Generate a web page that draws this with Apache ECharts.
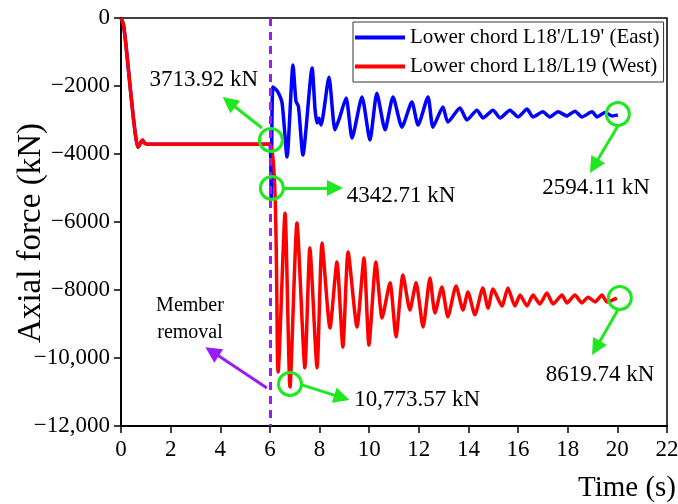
<!DOCTYPE html>
<html>
<head>
<meta charset="utf-8">
<script src="https://cdn.jsdelivr.net/npm/echarts@6/dist/echarts.min.js"></script>
<style>
  html, body { margin: 0; padding: 0; background: #fff; }
  #chart { width: 678px; height: 504px; }
</style>
</head>
<body>
<div id="chart"></div>
<script>
// loading phase, shared by both chords (s, kN)
const preTime = [0, 0.1, 0.2, 0.3, 0.4, 0.5, 0.6, 0.68, 0.77, 0.86, 0.97, 1.15, 6.0];
const preForce = [0, -200, -800, -1530, -2260, -2940, -3530, -3800, -3700, -3590, -3690, -3714, -3714];

// after member removal
const eastTime = [6.05, 6.12, 6.3, 6.49, 6.69, 6.93, 7.05, 7.15, 7.33, 7.7, 7.82, 7.9, 7.98, 8.06, 8.38, 8.62, 8.8, 9.07, 9.31, 9.71, 10.03, 10.31, 10.64, 10.96, 11.32, 11.72, 11.97, 12.37, 12.57, 12.97, 13.17, 13.66, 13.94, 14.34, 14.59, 14.99, 15.27, 15.67, 16.0, 16.36, 16.6, 17.0, 17.28, 17.61, 17.97, 18.29, 18.57, 18.98, 19.18, 19.5, 19.8, 20.02];
const eastForce = [-5300, -2030, -2150, -2500, -4090, -1380, -2450, -2600, -4030, -1470, -2700, -3090, -2950, -3150, -1740, -3290, -2950, -2350, -3530, -2320, -3590, -2210, -3290, -2320, -3210, -2470, -3150, -2320, -3210, -2620, -3060, -2650, -3000, -2710, -2940, -2710, -2940, -2710, -2910, -2680, -2910, -2760, -2910, -2760, -2880, -2740, -2910, -2760, -2910, -2780, -2880, -2850];

const westTime = [6.33, 6.61, 6.81, 7.09, 7.41, 7.61, 7.9, 8.1, 8.42, 8.7, 8.94, 9.15, 9.51, 9.79, 9.99, 10.27, 10.52, 10.84, 11.08, 11.36, 11.64, 11.89, 12.17, 12.45, 12.65, 12.93, 13.17, 13.5, 13.78, 13.98, 14.26, 14.58, 14.79, 14.99, 15.35, 15.59, 15.87, 16.08, 16.36, 16.6, 16.88, 17.16, 17.41, 17.77, 17.97, 18.29, 18.57, 18.82, 19.1, 19.38, 19.58, 19.98];
const westForce = [-10410, -5740, -10850, -6030, -10290, -6760, -10290, -6620, -9120, -7180, -9680, -6880, -9090, -7060, -9620, -7180, -8820, -7790, -9380, -7560, -8590, -7790, -9090, -7650, -8680, -7910, -8790, -7880, -8590, -8060, -8730, -7940, -8530, -7970, -8470, -7940, -8470, -8150, -8470, -8150, -8410, -8090, -8410, -8150, -8380, -8150, -8380, -8210, -8350, -8150, -8350, -8240];

const seriesNames = ["Lower chord L18'/L19' (East)", 'Lower chord L18/L19 (West)'];
const removalTime = 6;

// annotations: circle marks, arrows and value labels
const circleMarks = [[6.04, -3588], [6.08, -5000], [6.81, -10764], [20.02, -2823], [20.1, -8235]];
const greenArrows = [
  [[5.68, -3235], [4.35, -2470]],
  [[6.53, -5000], [8.62, -5000]],
  [[7.29, -10790], [8.9, -11165]],
  [[20.02, -3176], [19.06, -4353]],
  [[20.02, -8588], [19.14, -9705]]
];
const valueLabels = [
  { text: '3713.92 kN', at: [3.34, -1823] },
  { text: '4342.71 kN', at: [11.28, -5235] },
  { text: '10,773.57 kN', at: [11.93, -11235] },
  { text: '2594.11 kN', at: [19.14, -5000] },
  { text: '8619.74 kN', at: [19.3, -10500] }
];
const removalArrow = [[5.88, -10882], [3.67, -9812]];
const removalLabel = { text: 'Member\nremoval', at: [2.78, -8853] };

const FONT = 'Liberation Serif';
const GREEN = '#1ee81e';
const PURPLE = '#9a1cf5';

const pairs = (ts, vs) => ts.map((t, i) => [t, vs[i]]);
const pre = pairs(preTime, preForce);
const eastData = pre.concat(pairs(eastTime, eastForce));
const westData = pre.concat(pairs(westTime, westForce));

const fmtForce = v => {
  if (v === 0) return '0';
  const a = Math.abs(v);
  return '\u2212' + (a >= 10000 ? a.toLocaleString('en-US') : String(a));
};

const chart = echarts.init(document.getElementById('chart'));

const option = {
  animation: false,
  backgroundColor: '#fff',
  grid: {
    left: 121, right: 11, top: 18, bottom: 78,
    containLabel: false,
    outerBoundsMode: 'none',
    show: true, borderColor: '#000', borderWidth: 1.5, backgroundColor: 'transparent'
  },
  legend: {
    data: seriesNames,
    orient: 'vertical',
    left: 353,
    top: 22,
    icon: 'rect',
    backgroundColor: '#fff',
    borderColor: '#333',
    borderWidth: 1,
    padding: [4, 4, 4, 2],
    itemWidth: 50,
    itemHeight: 4,
    itemGap: 6,
    textStyle: { fontFamily: FONT, fontSize: 21, color: '#000', lineHeight: 23 }
  },
  xAxis: {
    type: 'value',
    min: 0, max: 22, interval: 2,
    name: 'Time (s)',
    nameLocation: 'end',
    nameGap: 9,
    nameMoveOverlap: false,
    nameTextStyle: { fontFamily: FONT, fontSize: 29, color: '#000', align: 'right', verticalAlign: 'top', padding: [48, 0, 0, 0] },
    axisLine: { onZero: false, lineStyle: { color: '#000', width: 2 } },
    axisTick: { inside: false, length: 7, lineStyle: { color: '#000', width: 1.5 } },
    axisLabel: { fontFamily: FONT, fontSize: 23, color: '#000', margin: 12 },
    splitLine: { show: false }
  },
  yAxis: {
    type: 'value',
    min: -12000, max: 0, interval: 2000,
    name: 'Axial force (kN)',
    nameLocation: 'middle',
    nameGap: 73,
    nameMoveOverlap: false,
    nameTextStyle: { fontFamily: FONT, fontSize: 33, color: '#000', padding: [0, 22, 0, 0] },
    axisLine: { onZero: false, lineStyle: { color: '#000', width: 2 } },
    axisTick: { inside: false, length: 7, lineStyle: { color: '#000', width: 1.5 } },
    axisLabel: { fontFamily: FONT, fontSize: 23, color: '#000', margin: 11, formatter: fmtForce },
    splitLine: { show: false }
  },
  series: [
    {
      name: seriesNames[0],
      type: 'line',
      data: eastData,
      symbol: 'none',
      smooth: 0.2,
      color: '#0000ff',
      lineStyle: { width: 3.5, color: '#0000ff' },
      z: 2
    },
    {
      name: seriesNames[1],
      type: 'line',
      data: westData,
      symbol: 'none',
      smooth: 0.2,
      color: '#ff0000',
      lineStyle: { width: 3.5, color: '#ff0000' },
      z: 3
    },
    {
      name: 'annotations',
      type: 'line',
      data: [],
      z: 5,
      markLine: {
        silent: true,
        animation: false,
        symbol: ['none', 'triangle'],
        symbolSize: 16,
        label: { show: false },
        lineStyle: { color: GREEN, width: 3, type: 'solid' },
        data: [
          [{ xAxis: removalTime, yAxis: 0, symbol: 'none', lineStyle: { color: PURPLE, width: 3, type: [8, 6] } },
           { xAxis: removalTime, yAxis: -12000, symbol: 'none' }],
          [{ coord: removalArrow[0], lineStyle: { color: PURPLE, width: 3 } },
           { coord: removalArrow[1] }]
        ].concat(greenArrows.map(a => [{ coord: a[0] }, { coord: a[1] }]))
      },
      markPoint: {
        silent: true,
        animation: false,
        data: circleMarks.map(c => ({
          coord: c,
          symbol: 'circle',
          symbolSize: 23,
          itemStyle: { color: 'rgba(0,0,0,0)', borderColor: GREEN, borderWidth: 3 },
          label: { show: false }
        })).concat(valueLabels.concat([removalLabel]).map(l => ({
          coord: l.at,
          symbol: 'circle',
          symbolSize: 1,
          itemStyle: { color: 'rgba(0,0,0,0)' },
          label: {
            show: true,
            position: 'inside',
            formatter: l.text,
            fontFamily: FONT,
            fontSize: l === removalLabel ? 20 : 23,
            lineHeight: 27,
            color: '#000'
          }
        })))
      }
    }
  ]
};

chart.setOption(option);
window.addEventListener('resize', function () {
  chart.resize();
});
</script>
</body>
</html>
